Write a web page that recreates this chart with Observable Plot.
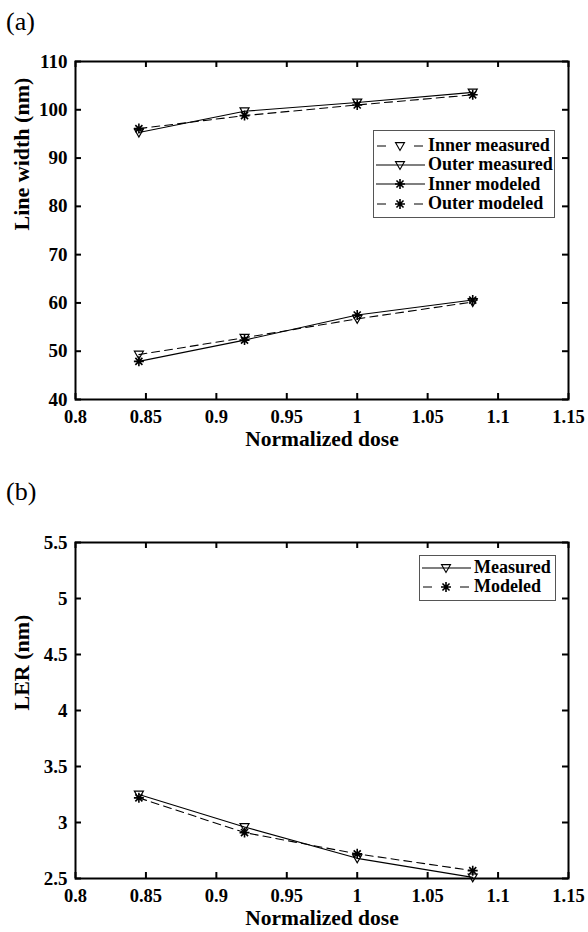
<!DOCTYPE html>
<html><head><meta charset="utf-8">
<script src="https://cdn.jsdelivr.net/npm/d3@7"></script>
<script src="https://cdn.jsdelivr.net/npm/@observablehq/plot@0.6"></script>
<style>
body{margin:0;background:#fff;}
#wrap{position:relative;width:588px;height:932px;overflow:hidden;font-family:"Liberation Serif",serif;background:#fff;}
.panel{position:absolute;left:0;}
.tag{position:absolute;font-size:26px;font-weight:normal;line-height:30px;}
.legend{position:absolute;border:1px solid #555;background:#fff;font-weight:bold;font-size:18px;box-sizing:border-box;}
.row{display:flex;align-items:center;height:19.3px;white-space:nowrap;}
.row svg{flex:none;}
</style></head><body><div id="wrap"></div>
<script>
const dose = [0.845, 0.92, 1.0, 1.082];
const innerMeasured = [49.3, 52.8, 56.7, 60.2];
const outerMeasured = [95.3, 99.7, 101.5, 103.6];
const innerModeled = [47.9, 52.3, 57.5, 60.6];
const outerModeled = [96.1, 98.8, 101.0, 103.1];
const lerMeasured = [3.25, 2.96, 2.68, 2.51];
const lerModeled = [3.22, 2.91, 2.72, 2.57];
const xTicks = [0.8, 0.85, 0.9, 0.95, 1, 1.05, 1.1, 1.15];
const yTicksA = [40, 50, 60, 70, 80, 90, 100, 110];
const yTicksB = [2.5, 3, 3.5, 4, 4.5, 5, 5.5];
const namesA = ["Inner measured", "Outer measured", "Inner modeled", "Outer modeled"];
const namesB = ["Measured", "Modeled"];

const FONT = '"Liberation Serif", serif';

// MATLAB-like markers
const triDown = {draw(ctx, size) {
  const r = Math.sqrt(size / Math.PI);
  ctx.moveTo(-r, -0.75 * r); ctx.lineTo(r, -0.75 * r); ctx.lineTo(0, r); ctx.closePath();
}};
const star = {draw(ctx, size) {
  const r = Math.sqrt(size / Math.PI), d = r * 0.707;
  ctx.moveTo(-r, 0); ctx.lineTo(r, 0); ctx.moveTo(0, -r); ctx.lineTo(0, r);
  ctx.moveTo(-d, -d); ctx.lineTo(d, d); ctx.moveTo(-d, d); ctx.lineTo(d, -d);
}};

function rowsOf(values, name) { return dose.map((x, i) => ({x, y: values[i], series: name})); }

const seriesA = [
  {name: namesA[0], rows: rowsOf(innerMeasured, namesA[0]), dashed: true, sym: triDown},
  {name: namesA[1], rows: rowsOf(outerMeasured, namesA[1]), dashed: false, sym: triDown},
  {name: namesA[2], rows: rowsOf(innerModeled, namesA[2]), dashed: false, sym: star},
  {name: namesA[3], rows: rowsOf(outerModeled, namesA[3]), dashed: true, sym: star}
];
const seriesB = [
  {name: namesB[0], rows: rowsOf(lerMeasured, namesB[0]), dashed: false, sym: triDown},
  {name: namesB[1], rows: rowsOf(lerModeled, namesB[1]), dashed: true, sym: star}
];

function panel({series, yDomain, yTicks, yLabel, height, mt, mb}) {
  const ml = 75, mr = 20, W = 588;
  const fh = height - mt - mb, fw = W - ml - mr, T = 6;
  const marks = [];
  for (const s of series) marks.push(Plot.line(s.rows, {x: "x", y: "y", stroke: "black", strokeWidth: 1.1, strokeDasharray: s.dashed ? "8,5" : null}));
  for (const s of series) marks.push(Plot.dot(s.rows, {x: "x", y: "y", r: s.sym === star ? 5 : 4.5, symbol: s.sym, stroke: "black", fill: "none", strokeWidth: s.sym === star ? 1.6 : 1.2}));
  marks.push(
    Plot.tickX(xTicks, {x: d => d, insetTop: fh - T, stroke: "black", strokeWidth: 2}),
    Plot.tickX(xTicks, {x: d => d, insetBottom: fh - T, stroke: "black", strokeWidth: 2}),
    Plot.tickY(yTicks, {y: d => d, insetRight: fw - T, stroke: "black", strokeWidth: 2}),
    Plot.tickY(yTicks, {y: d => d, insetLeft: fw - T, stroke: "black", strokeWidth: 2}),
    Plot.frame({stroke: "black", strokeWidth: 2}),
    Plot.axisX(xTicks, {tickSize: 0, tickPadding: 10, label: null, fontFamily: FONT, fontSize: 18.5, tickFormat: d => String(d)}),
    Plot.axisY(yTicks, {tickSize: 0, tickPadding: 8, label: null, fontFamily: FONT, fontSize: 19, tickFormat: d => String(d)}),
    Plot.text([yLabel], {frameAnchor: "left", rotate: -90, dx: -54, fontSize: 22, fontFamily: FONT, text: d => d}),
    Plot.text(["Normalized dose"], {frameAnchor: "bottom", dy: 46, fontSize: 21.5, fontFamily: FONT, text: d => d})
  );
  return Plot.plot({
    width: W, height, marginTop: mt, marginBottom: mb, marginLeft: ml, marginRight: mr,
    x: {domain: [0.8, 1.15]}, y: {domain: yDomain},
    style: {fontFamily: FONT, fontWeight: "bold", fontSize: "19px", color: "black", background: "white"},
    marks
  });
}

function legend(series, {left, top, width, height, padTop}) {
  const box = document.createElement("div");
  box.className = "legend";
  Object.assign(box.style, {left: left + "px", top: top + "px", width: width + "px", height: height + "px", paddingTop: padTop + "px"});
  for (const s of series) {
    const row = document.createElement("div"); row.className = "row";
    const svg = d3.create("svg").attr("width", 53).attr("height", 18);
    if (s.dashed) {
      svg.append("line").attr("x1", 3).attr("x2", 12).attr("y1", 9).attr("y2", 9).attr("stroke", "black");
      svg.append("line").attr("x1", 40).attr("x2", 49).attr("y1", 9).attr("y2", 9).attr("stroke", "black");
    } else {
      svg.append("line").attr("x1", 2).attr("x2", 51).attr("y1", 9).attr("y2", 9).attr("stroke", "black").attr("stroke-width", 1.2);
    }
    const p = d3.path(); const r = s.sym === star ? 5 : 4.5;
    s.sym.draw(p, r * r * Math.PI);
    svg.append("path").attr("d", p.toString()).attr("transform", "translate(26,9)").attr("fill", "none").attr("stroke", "black").attr("stroke-width", s.sym === star ? 1.6 : 1.1);
    row.appendChild(svg.node());
    const t = document.createElement("span"); t.textContent = s.name; t.style.marginLeft = "1px";
    row.appendChild(t);
    box.appendChild(row);
  }
  return box;
}

const wrap = document.getElementById("wrap");

const a = panel({series: seriesA, yDomain: [40, 110], yTicks: yTicksA, yLabel: "Line width (nm)", height: 460, mt: 61, mb: 61});
a.classList.add("panel"); a.style.top = "0px"; wrap.appendChild(a);

const b = panel({series: seriesB, yDomain: [2.5, 5.5], yTicks: yTicksB, yLabel: "LER (nm)", height: 452, mt: 62, mb: 54});
b.classList.add("panel"); b.style.top = "480px"; wrap.appendChild(b);

const ta = document.createElement("div"); ta.className = "tag"; ta.textContent = "(a)"; ta.style.left = "6px"; ta.style.top = "7px"; wrap.appendChild(ta);
const tb = document.createElement("div"); tb.className = "tag"; tb.textContent = "(b)"; tb.style.left = "6px"; tb.style.top = "477px"; wrap.appendChild(tb);

wrap.appendChild(legend(seriesA, {left: 373, top: 130, width: 182, height: 88, padTop: 5}));
wrap.appendChild(legend(seriesB, {left: 419, top: 555, width: 137, height: 46, padTop: 2}));
</script></body></html>
